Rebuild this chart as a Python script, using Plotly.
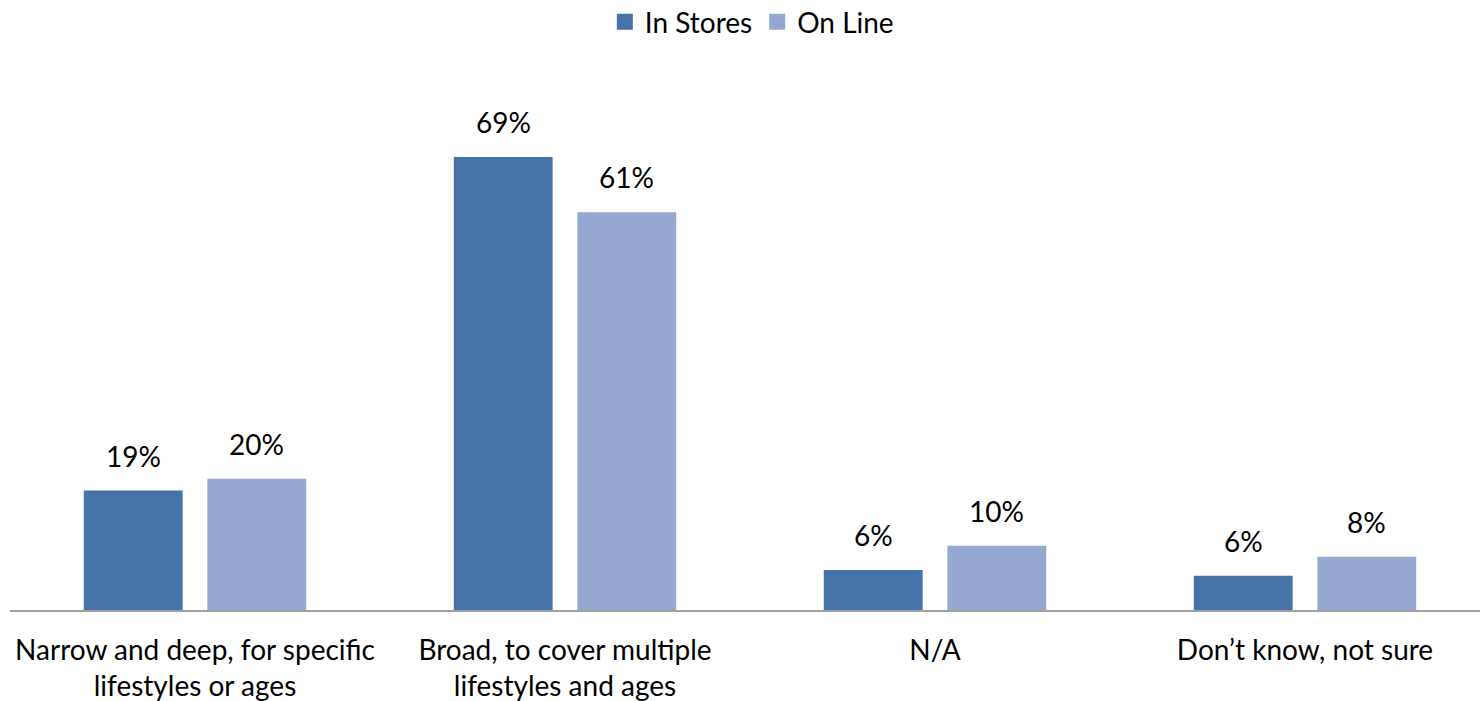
import plotly.graph_objects as go

categories = [
    "Narrow and deep, for specific<br>lifestyles or ages",
    "Broad, to cover multiple<br>lifestyles and ages",
    "N/A",
    "Don\u2019t know, not sure",
]
series_names = ["In Stores", "On Line"]
in_stores = [18.2, 69.0, 6.1, 5.2]
on_line = [20.0, 60.6, 9.8, 8.1]
in_stores_labels = ["19%", "69%", "6%", "6%"]
on_line_labels = ["20%", "61%", "10%", "8%"]

colors = ["#4572A7", "#95A9D0"]
font_family = "Lato, 'Open Sans', sans-serif"

fig = go.Figure()
idx = list(range(len(categories)))
for name, vals, col in zip(series_names, [in_stores, on_line], colors):
    fig.add_trace(go.Bar(x=idx, y=vals, name=name, showlegend=False,
                         marker=dict(color=col, line=dict(width=0))))
# legend entries with larger square swatches
for name, col in zip(series_names, colors):
    fig.add_trace(go.Scatter(x=[None], y=[None], mode="markers", name=name,
                             marker=dict(symbol="square", size=16, color=col)))

# data labels
slot = (1 - 0.332) / 2
for k, (vals, labs) in enumerate([(in_stores, in_stores_labels), (on_line, on_line_labels)]):
    off = (k - 0.5) * slot
    for i, (v, t) in enumerate(zip(vals, labs)):
        fig.add_annotation(x=i + off, y=v, xref="x", yref="y", text=t, showarrow=False,
                           yanchor="bottom", yshift=16,
                           font=dict(family=font_family, size=28, color="#000000"))

fig.update_layout(
    width=1480, height=701,
    margin=dict(l=10, r=0, t=90, b=91),
    paper_bgcolor="white", plot_bgcolor="white",
    barmode="group", bargap=0.332, bargroupgap=0.2,
    font=dict(family=font_family, size=28, color="#000000"),
    showlegend=True,
    legend=dict(orientation="h", xref="container", x=0.508, xanchor="center",
                yref="container", y=1 - 22 / 701, yanchor="middle",
                font=dict(size=28), itemsizing="trace", traceorder="normal",
                itemwidth=30),
    xaxis=dict(range=[-0.5, -0.5 + 1470 / 370], tickmode="array", tickvals=idx,
               ticktext=categories, showline=True, linecolor="#A0A0A0", linewidth=2,
               showgrid=False, zeroline=False, ticks="", ticklabelstandoff=14,
               automargin=False, fixedrange=True),
    yaxis=dict(range=[0, 520 / 6.565], visible=False, showgrid=False, zeroline=False,
               fixedrange=True),
)

fig.write_html("out.html")
